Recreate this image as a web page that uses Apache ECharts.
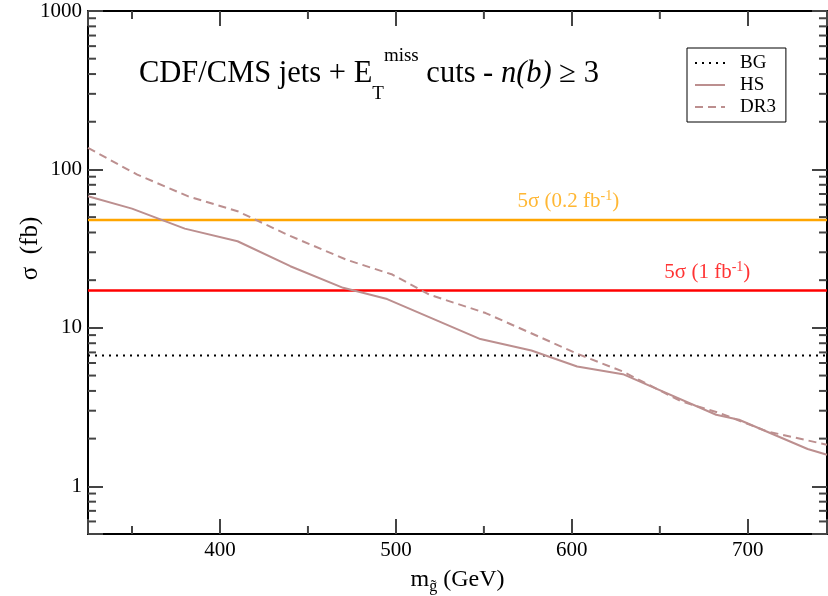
<!DOCTYPE html>
<html><head><meta charset="utf-8">
<script src="https://cdn.jsdelivr.net/npm/echarts@6/dist/echarts.min.js"></script>
<style>html,body{margin:0;padding:0;background:#fff}#c{width:828px;height:596px}</style>
</head><body><div id="c"></div>
<script>
const X_MIN = 325, X_MAX = 745;
const Y_MIN = 0.5, Y_MAX = 1000;
const hsMass   = [325, 350, 380, 410, 440, 470, 495, 548, 577, 603, 629, 682, 695, 734, 745];
const hsSigma  = [67.7, 56.6, 42.3, 35.2, 24.5, 17.9, 15.2, 8.5, 7.2, 5.7, 5.1, 2.83, 2.63, 1.72, 1.58];
const dr3Mass  = [325, 353, 382, 410, 439, 472, 498, 519, 551, 604, 629, 662, 684, 711, 745];
const dr3Sigma = [136.7, 92.7, 67.6, 54.5, 38.4, 26.9, 21.7, 16.2, 12.4, 6.8, 5.3, 3.44, 2.9, 2.22, 1.83];
const bgMass = [325, 745];
const bgSigma = [6.7, 6.7];
const fiveSigma02 = 48;   // 5σ (0.2 fb^-1)
const fiveSigma1 = 17.2;  // 5σ (1 fb^-1)
const label02Mass = 598;
const label1Mass = 677;
const xMinorTicks = [350, 450, 550, 650];
const yMinorTicks = [0.6,0.7,0.8,0.9, 2,3,4,5,6,7,8,9, 20,30,40,50,60,70,80,90, 200,300,400,500,600,700,800,900];

const FONT = 'Liberation Serif';
const HSCOL = '#BC8F8F';
const TICK = '#444';

const chart = echarts.init(document.getElementById('c'), null, {renderer: 'canvas'});

function pairs(xs, ys) { return xs.map((x, i) => [x, ys[i]]); }

const xBase = {
  type: 'value', min: X_MIN, max: X_MAX, splitNumber: 4,
  axisLine: {show: true, onZero: false, lineStyle: {color: '#000', width: 2}},
  axisTick: {show: true, inside: true, length: 15, lineStyle: {color: TICK, width: 2}},
  splitLine: {show: false}
};
const yBase = {
  type: 'log', logBase: 10, min: Y_MIN, max: Y_MAX,
  axisLine: {show: true, onZero: false, lineStyle: {color: '#000', width: 2}},
  axisTick: {show: true, inside: true, length: 15, lineStyle: {color: TICK, width: 2}},
  splitLine: {show: false}
};

const option = {
  animation: false,
  backgroundColor: '#fff',
  grid: {left: 88, right: 1, top: 11, bottom: 62, containLabel: false, outerBoundsMode: 'none'},
  title: {
    left: 139, top: 44, padding: 0,
    text: '{a|CDF/CMS jets + E}{sub|T}{sup|miss}{a| cuts - }{it|n(b)}{a| ≥ 3}',
    textStyle: {
      fontWeight: 'normal',
      rich: {
        a: {fontFamily: FONT, fontSize: 30.5, fontWeight: 'normal', color: '#000', lineHeight: 60},
        sub: {fontFamily: FONT, fontSize: 19, fontWeight: 'normal', color: '#000', verticalAlign: 'bottom', lineHeight: 19},
        sup: {fontFamily: FONT, fontSize: 19, fontWeight: 'normal', color: '#000', verticalAlign: 'top', lineHeight: 19, padding: [3, 0, 0, 0]},
        it: {fontFamily: FONT, fontSize: 30.5, fontWeight: 'normal', fontStyle: 'italic', color: '#000', lineHeight: 60}
      }
    }
  },
  legend: {
    data: ['BG', 'HS', 'DR3'],
    orient: 'vertical', left: 687, top: 48,
    itemWidth: 30, itemHeight: 14, itemGap: 2,
    padding: [5, 10, 5, 7],
    borderColor: '#000', borderWidth: 1, borderRadius: 0,
    itemStyle: {opacity: 0},
    textStyle: {fontFamily: FONT, fontSize: 19, color: '#000', lineHeight: 20, padding: [0, 0, 0, 10]}
  },
  xAxis: [
    Object.assign({}, xBase, {
      position: 'bottom',
      axisLabel: {show: true, fontFamily: FONT, fontSize: 21, color: '#000', margin: 6,
        formatter: v => (Math.abs(v % 100) < 1e-6 ? String(Math.round(v)) : '')},
      name: '{m|m}{s|g̃}{m| (GeV)}', nameLocation: 'middle', nameGap: 31,
      nameTextStyle: {rich: {
        m: {fontFamily: FONT, fontSize: 24, color: '#000', lineHeight: 30},
        s: {fontFamily: FONT, fontSize: 16, color: '#000', verticalAlign: 'bottom', lineHeight: 16}
      }}
    }),
    Object.assign({}, xBase, {position: 'top', axisLabel: {show: false}})
  ],
  yAxis: [
    Object.assign({}, yBase, {
      position: 'left',
      axisLabel: {show: true, fontFamily: FONT, fontSize: 21, color: '#000', margin: 6,
        formatter: v => { const l = Math.log10(v); return Math.abs(l - Math.round(l)) < 1e-6 && v >= 1 ? String(Math.round(v)) : ''; }},
      name: 'σ  (fb)', nameLocation: 'middle', nameGap: 45, nameRotate: 90, nameMoveOverlap: false,
      nameTextStyle: {fontFamily: FONT, fontSize: 25, color: '#000', padding: [0, 0, 0, 48]}
    }),
    Object.assign({}, yBase, {position: 'right', axisLabel: {show: false}})
  ],
  series: [
    {name: 'BG', type: 'line', data: pairs(bgMass, bgSigma), symbol: 'none', z: 3,
      lineStyle: {color: '#000', width: 2, type: [2, 5], cap: 'butt'}, itemStyle: {color: '#000'}},
    {name: 'HS', type: 'line', data: pairs(hsMass, hsSigma), symbol: 'none', z: 4,
      lineStyle: {color: HSCOL, width: 2}, itemStyle: {color: HSCOL}},
    {name: 'DR3', type: 'line', data: pairs(dr3Mass, dr3Sigma), symbol: 'none', z: 4,
      lineStyle: {color: HSCOL, width: 2, type: [8, 5]}, itemStyle: {color: HSCOL}},
    {name: '5s02', type: 'line', data: [[X_MIN, fiveSigma02], [X_MAX, fiveSigma02]], symbol: 'none', z: 3,
      lineStyle: {color: '#FFA500', width: 2.5}},
    {name: '5s1', type: 'line', data: [[X_MIN, fiveSigma1], [X_MAX, fiveSigma1]], symbol: 'none', z: 3,
      lineStyle: {color: '#FF0000', width: 2.5}},
    {name: 'lab02', type: 'scatter', data: [[label02Mass, fiveSigma02]], symbolSize: 1, itemStyle: {color: 'transparent'}, silent: true, z: 6,
      label: {show: true, position: 'top', distance: 6, formatter: '{a|5σ (0.2 fb}{s|-1}{a|)}',
        rich: {a: {fontFamily: FONT, fontSize: 21, color: '#FFA500', lineHeight: 24},
               s: {fontFamily: FONT, fontSize: 14, color: '#FFA500', verticalAlign: 'top', lineHeight: 12}}}},
    {name: 'lab1', type: 'scatter', data: [[label1Mass, fiveSigma1]], symbolSize: 1, itemStyle: {color: 'transparent'}, silent: true, z: 6,
      label: {show: true, position: 'top', distance: 6, formatter: '{a|5σ (1 fb}{s|-1}{a|)}',
        rich: {a: {fontFamily: FONT, fontSize: 21, color: '#FF0000', lineHeight: 24},
               s: {fontFamily: FONT, fontSize: 14, color: '#FF0000', verticalAlign: 'top', lineHeight: 12}}}},
    {name: 'yminor', type: 'custom', silent: true, clip: false, z: 5,
      data: yMinorTicks.map(v => [X_MIN, v]),
      renderItem: (params, api) => {
        const v = api.value(1);
        const pL = api.coord([X_MIN, v]);
        const pR = api.coord([X_MAX, v]);
        const st = {stroke: TICK, lineWidth: 2};
        return {type: 'group', children: [
          {type: 'line', shape: {x1: pL[0], y1: pL[1], x2: pL[0] + 8, y2: pL[1]}, style: st},
          {type: 'line', shape: {x1: pR[0] - 8, y1: pR[1], x2: pR[0], y2: pR[1]}, style: st}
        ]};
      }},
    {name: 'xminor', type: 'custom', silent: true, clip: false, z: 5,
      data: xMinorTicks.map(v => [v, Y_MIN]),
      renderItem: (params, api) => {
        const v = api.value(0);
        const pB = api.coord([v, Y_MIN]);
        const pT = api.coord([v, Y_MAX]);
        const st = {stroke: TICK, lineWidth: 2};
        return {type: 'group', children: [
          {type: 'line', shape: {x1: pB[0], y1: pB[1], x2: pB[0], y2: pB[1] - 8}, style: st},
          {type: 'line', shape: {x1: pT[0], y1: pT[1], x2: pT[0], y2: pT[1] + 8}, style: st}
        ]};
      }}
  ]
};
chart.setOption(option);
</script>
</body></html>
